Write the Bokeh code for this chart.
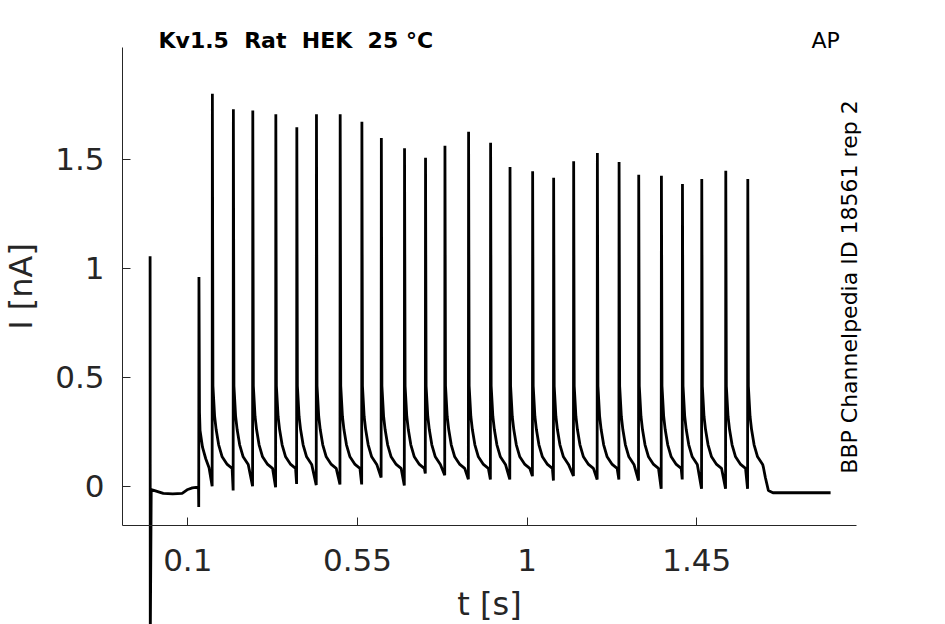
import math
from bokeh.plotting import figure
from bokeh.models import Range1d, FixedTicker, Label
from bokeh.embed import file_html
from bokeh.resources import INLINE

# ---------------- data ----------------
# onset transient at t = 0 and holding baseline before the train
onset_t = [0.0, 0.0005, 0.003, 0.012, 0.035, 0.060, 0.085, 0.100, 0.112, 0.122, 0.1285]
onset_I = [1.056, -0.70, -0.015, -0.020, -0.033, -0.035, -0.033, -0.015, -0.008, -0.005, -0.010]

# first (small) spike of the train
small_t = 0.129
small_dip = -0.096
small_peak = 0.961
small_decay_dt = [0.002, 0.0035, 0.010, 0.0186, 0.0274]
small_decay_I = [0.34, 0.256, 0.179, 0.126, 0.085]

# main spikes: time [s], peak [nA], dip before the peak [nA]
spike_t = [0.1646, 0.2203, 0.2718, 0.3329, 0.3886, 0.4407, 0.5036, 0.5612, 0.6128,
           0.6743, 0.7300, 0.7815, 0.8442, 0.9026, 0.9541, 1.0141, 1.0698, 1.1229,
           1.1858, 1.2434, 1.2955, 1.3557, 1.4115, 1.4627, 1.5264, 1.5848]
spike_peak = [1.802, 1.731, 1.725, 1.708, 1.648, 1.708, 1.708, 1.673, 1.599,
              1.552, 1.508, 1.563, 1.627, 1.577, 1.465, 1.446, 1.416, 1.492,
              1.530, 1.489, 1.430, 1.425, 1.388, 1.411, 1.448, 1.411]
spike_dip = [0.000, -0.020, 0.000, -0.005, 0.010, 0.005, 0.008, 0.008, 0.040,
             0.003, 0.058, 0.050, 0.032, 0.031, 0.031, 0.046, 0.026, 0.047,
             0.031, 0.031, 0.026, -0.012, 0.031, -0.012, -0.012, -0.012]

# decay after each main spike (time after the spike [s], current [nA])
decay_dt = [0.0021, 0.0066, 0.0106, 0.0173, 0.0265, 0.040, 0.053]
decay_I = [0.46, 0.32, 0.26, 0.19, 0.135, 0.100, 0.082]

# end of the train and the final baseline
tail_t = [1.627, 1.632, 1.640, 1.652, 1.805]
tail_I = [0.085, 0.040, -0.020, -0.030, -0.030]

x_ticks = [0.1, 0.55, 1, 1.45]
x_tick_labels = ["0.1", "0.55", "1", "1.45"]
y_ticks = [0, 0.5, 1, 1.5]
y_tick_labels = ["0", "0.5", "1", "1.5"]

# extent of the drawn axes box
x_lim = (-0.0732, 1.8737)
y_lim = (-0.1827, 2.0156)

title_text = "Kv1.5 \u00a0Rat \u00a0HEK \u00a025 °C"
corner_text = "AP"
side_text = "BBP Channelpedia ID 18561 rep 2"

# ---------------- assemble the trace ----------------
t_all = list(onset_t)
I_all = list(onset_I)
t_all += [small_t, small_t + 0.0006]
I_all += [small_dip, small_peak]
for dt, v in zip(small_decay_dt, small_decay_I):
    t_all.append(small_t + dt)
    I_all.append(v)
for k, (ts, pk, dp) in enumerate(zip(spike_t, spike_peak, spike_dip)):
    nxt = spike_t[k + 1] if k + 1 < len(spike_t) else tail_t[0]
    t_all += [ts, ts + 0.0006]
    I_all += [dp, pk]
    for dt, v in zip(decay_dt, decay_I):
        if ts + dt < nxt - 0.0008:
            t_all.append(ts + dt)
            I_all.append(v)
t_all += tail_t
I_all += tail_I

# ---------------- figure ----------------
# The frame fills the canvas; the axes are drawn at fixed locations so that
# the texts around the axes box and the onset transient are not clipped.
AX = "#262626"
p = figure(width=945, height=624, output_backend="svg", toolbar_location=None,
           x_range=Range1d(-0.3968, 2.1098), y_range=Range1d(-0.6350, 2.2300),
           min_border=0)
p.outline_line_color = None
p.xgrid.visible = False
p.ygrid.visible = False
p.background_fill_color = "white"
p.border_fill_color = "white"

p.line(t_all, I_all, line_color="black", line_width=2.8, line_join="bevel")

p.xaxis.fixed_location = y_lim[0]
p.xaxis.bounds = x_lim
p.yaxis.fixed_location = x_lim[0]
p.yaxis.bounds = y_lim

p.xaxis.ticker = FixedTicker(ticks=x_ticks)
p.xaxis.major_label_overrides = dict(zip(x_ticks, x_tick_labels))
p.yaxis.ticker = FixedTicker(ticks=y_ticks)
p.yaxis.major_label_overrides = dict(zip(y_ticks, y_tick_labels))
p.xaxis.axis_label = "t [s]"
p.yaxis.axis_label = "I [nA]"

for ax in (p.xaxis[0], p.yaxis[0]):
    ax.axis_line_color = AX
    ax.axis_line_width = 1
    ax.major_tick_line_color = AX
    ax.major_tick_in = 8
    ax.major_tick_out = 0
    ax.minor_tick_line_color = None
    ax.major_label_text_font = "DejaVu Sans"
    ax.major_label_text_font_size = "31px"
    ax.major_label_text_color = AX
    ax.axis_label_text_font = "DejaVu Sans"
    ax.axis_label_text_font_size = "32px"
    ax.axis_label_text_font_style = "normal"
    ax.axis_label_text_color = AX
p.xaxis.major_label_standoff = 23
p.xaxis.axis_label_standoff = 11
p.yaxis.major_label_standoff = 18
p.yaxis.axis_label_standoff = 12

p.add_layout(Label(x=0.0223, y=2.048, text=title_text, text_font="DejaVu Sans",
                   text_font_style="bold", text_font_size="22px",
                   text_color="black", text_baseline="alphabetic", text_align="left"))
p.add_layout(Label(x=1.7544, y=2.048, text=corner_text, text_font="DejaVu Sans",
                   text_font_size="22px", text_color="black",
                   text_baseline="alphabetic", text_align="left"))
p.add_layout(Label(x=1.8552, y=0.9146, text=side_text, text_font="DejaVu Sans",
                   text_font_size="22px", text_color="black", angle=math.pi / 2,
                   text_baseline="alphabetic", text_align="center"))

open("out.html", "w").write(file_html(p, INLINE))
